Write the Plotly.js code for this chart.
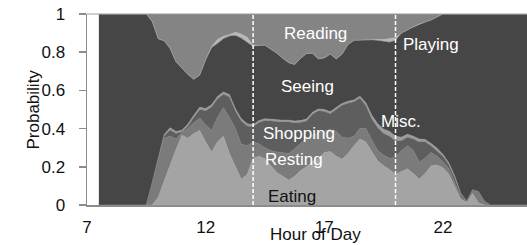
<!DOCTYPE html>
<html>
<head>
<meta charset="utf-8">
<script src="https://cdn.plot.ly/plotly-3.0.1.min.js"></script>
<style>
html,body{margin:0;padding:0;background:#fff;}
#chart{width:527px;height:245px;}
</style>
</head>
<body>
<div id="chart"></div>
<script>
// Hour of day (x)
var hours = [7.5,7.75,8,8.25,8.5,8.75,9,9.25,9.5,9.75,10,10.25,10.5,10.75,11,11.25,11.5,11.75,12,12.25,12.5,12.75,13,13.25,13.5,13.75,14,14.25,14.5,14.75,15,15.25,15.5,15.75,16,16.25,16.5,16.75,17,17.25,17.5,17.75,18,18.25,18.5,18.75,19,19.25,19.5,19.75,20,20.25,20.5,20.75,21,21.25,21.5,21.75,22,22.25,22.5,22.75,23,23.25,23.5,23.75,24,24.25,24.5,24.75,25,25.25,25.5,25.75];

var eating   = [0,0,0,0,0,0,0,0,0,0,0.04,0.127,0.21,0.29,0.365,0.35,0.375,0.39,0.33,0.278,0.33,0.36,0.27,0.2,0.135,0.16,0.245,0.255,0.242,0.205,0.17,0.15,0.13,0.15,0.18,0.2,0.228,0.242,0.275,0.28,0.255,0.24,0.27,0.31,0.345,0.33,0.28,0.23,0.205,0.185,0.16,0.175,0.19,0.165,0.135,0.165,0.205,0.21,0.195,0.16,0.095,0.03,0.015,0.06,0.01,0,0,0,0,0,0,0,0,0];
var resting  = [0,0,0,0,0,0,0,0,0,0.12,0.2,0.223,0.15,0.055,0.015,0.05,0.055,0.065,0.09,0.112,0.13,0.15,0.19,0.2,0.185,0.15,0.085,0.065,0.058,0.08,0.107,0.122,0.14,0.145,0.145,0.15,0.139,0.136,0.115,0.117,0.13,0.116,0.08,0.05,0.055,0.07,0.06,0.055,0.055,0.06,0.09,0.11,0.12,0.12,0.09,0.08,0.07,0.045,0.03,0.03,0.02,0.01,0.005,0.015,0.06,0.02,0,0,0,0,0,0,0,0];
var shopping = [0,0,0,0,0,0,0,0,0,0,0,0.01,0.033,0.03,0.003,0.012,0.028,0.045,0.073,0.123,0.096,0.07,0.106,0.093,0.12,0.104,0.08,0.112,0.142,0.153,0.158,0.162,0.164,0.135,0.107,0.09,0.108,0.115,0.1,0.081,0.115,0.166,0.183,0.18,0.16,0.12,0.11,0.12,0.115,0.115,0.085,0.052,0.045,0.06,0.105,0.085,0.035,0.03,0.03,0.02,0.025,0.015,0,0.003,0,0,0,0,0,0,0,0,0,0];
var misc     = [0,0,0,0,0,0,0,0,0,0,0,0.008,0.012,0.01,0.009,0.011,0.012,0.012,0.012,0.012,0.012,0.012,0.012,0.012,0.012,0.012,0.01,0.01,0.01,0.01,0.01,0.01,0.01,0.01,0.01,0.01,0.01,0.01,0.01,0.01,0.01,0.01,0.01,0.01,0.01,0.015,0.02,0.02,0.022,0.025,0.025,0.018,0.015,0.015,0.015,0.013,0.012,0.012,0.01,0.01,0.01,0.005,0,0.002,0,0,0,0,0,0,0,0,0,0];
var seeing   = [1,1,1,1,1,1,1,1,1,0.84,0.63,0.492,0.415,0.365,0.323,0.261,0.188,0.168,0.255,0.298,0.278,0.279,0.306,0.382,0.421,0.427,0.41,0.394,0.385,0.367,0.35,0.324,0.301,0.295,0.326,0.343,0.31,0.262,0.27,0.302,0.255,0.258,0.297,0.312,0.294,0.329,0.395,0.436,0.458,0.467,0.501,0.545,0.548,0.572,0.602,0.615,0.646,0.687,0.735,0.78,0.85,0.94,0.98,0.92,0.93,0.98,1,1,1,1,1,1,1,1];
var playing  = [0,0,0,0,0,0,0,0,0,0,0,0,0,0,0,0,0,0,0,0.005,0.02,0.012,0.008,0.018,0.022,0.025,0.005,0,0,0,0,0,0,0,0,0,0,0,0,0,0,0,0,0,0,0,0,0.005,0.012,0.02,0.015,0,0,0,0,0,0,0,0,0,0,0,0,0,0,0,0,0,0,0,0,0,0,0];
var reading  = [0,0,0,0,0,0,0,0,0,0.04,0.13,0.14,0.18,0.25,0.285,0.316,0.342,0.32,0.24,0.172,0.134,0.117,0.108,0.095,0.105,0.122,0.165,0.164,0.163,0.185,0.205,0.232,0.255,0.265,0.232,0.207,0.205,0.235,0.23,0.21,0.235,0.21,0.16,0.138,0.136,0.136,0.135,0.134,0.133,0.128,0.124,0.10,0.082,0.068,0.053,0.042,0.032,0.016,0,0,0,0,0,0,0,0,0,0,0,0,0,0,0,0];

var seriesNames  = ["Eating","Resting","Shopping","Misc.","Seeing","Playing","Reading"];
var seriesValues = [eating, resting, shopping, misc, seeing, playing, reading];
var seriesColors = ["#a4a4a4","#7b7b7b","#5e5e5e","#9c9c9c","#464646","#b8b8b8","#848484"];

var xTicks = [7,12,17,22];
var phaseHours = [14,20];

// label positions [text, hour, probability, color]
var labels = [
  ["Reading", 16.61, 0.898, "#ffffff"],
  ["Playing", 21.5, 0.84, "#ffffff"],
  ["Seeing", 16.29, 0.622, "#ffffff"],
  ["Misc.", 20.23, 0.435, "#ffffff"],
  ["Shopping", 15.95, 0.372, "#ffffff"],
  ["Resting", 15.72, 0.237, "#ffffff"],
  ["Eating", 15.64, 0.046, "#111111"]
];

var FONT = "Liberation Sans, Arial, sans-serif";

var traces = seriesNames.map(function(name, i){
  return {
    type: "scatter",
    mode: "lines",
    name: name,
    x: hours,
    y: seriesValues[i],
    stackgroup: "one",
    fillcolor: seriesColors[i],
    line: {color: seriesColors[i], width: 0.5},
    hoverinfo: "skip"
  };
});

var shapes = phaseHours.map(function(h){
  return {type:"line", xref:"x", yref:"paper", x0:h, x1:h, y0:0, y1:1,
          line:{color:"#ffffff", width:1.5, dash:"4px,2px"}, layer:"above"};
});
shapes.push({type:"line", xref:"paper", yref:"paper", x0:0, x1:1, y0:1, y1:1,
             line:{color:"#9a9a9a", width:1}, layer:"above"});

var annotations = labels.map(function(l){
  return {text:l[0], x:l[1], y:l[2], xref:"x", yref:"y", showarrow:false,
          font:{family:FONT, size:17, color:l[3]}, xanchor:"center", yanchor:"middle"};
});
annotations.push({text:"Hour of Day", xref:"paper", yref:"paper", x:0.52, y:-0.152,
  showarrow:false, xanchor:"center", yanchor:"middle", font:{family:FONT, size:17, color:"#111111"}});
annotations.push({text:"Probability", xref:"paper", yref:"paper", x:-0.1227, y:0.5,
  textangle:-90, showarrow:false, xanchor:"center", yanchor:"middle", font:{family:FONT, size:17, color:"#111111"}});

var layout = {
  width: 527, height: 245,
  margin: {l:87, r:0, t:14, b:40, pad:0},
  paper_bgcolor: "#ffffff",
  plot_bgcolor: "#ffffff",
  showlegend: false,
  xaxis: {
    range: [7, 25.54], tickvals: xTicks, ticktext: xTicks.map(String),
    ticks: "", showgrid: false, zeroline: false,
    showline: true, linecolor: "#8c8c8c", linewidth: 2,
    tickfont: {family: FONT, size: 17, color: "#111111"},
    ticklabelstandoff: 6,
    automargin: false
  },
  yaxis: {
    range: [0, 1], tick0: 0, dtick: 0.2,
    ticks: "outside", ticklen: 7, tickwidth: 1.5, tickcolor: "#8c8c8c",
    showgrid: false, zeroline: false,
    showline: true, linecolor: "#8c8c8c", linewidth: 1.5,
    tickfont: {family: FONT, size: 17, color: "#111111"},
    ticklabelstandoff: 10,
    automargin: false
  },
  shapes: shapes,
  annotations: annotations
};

Plotly.newPlot("chart", traces, layout, {staticPlot: true, displayModeBar: false});
</script>
</body>
</html>
